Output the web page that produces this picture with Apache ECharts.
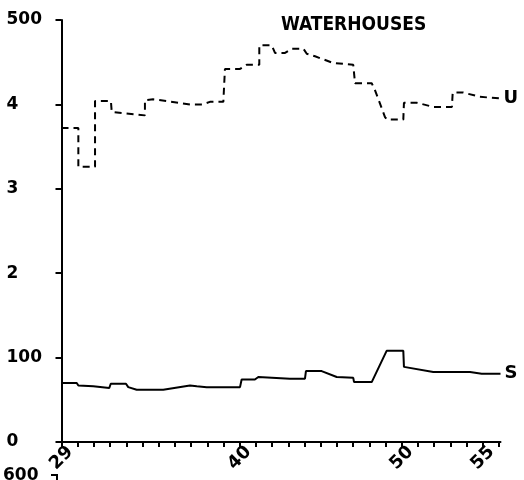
<!DOCTYPE html>
<html>
<head>
<meta charset="utf-8">
<script src="https://cdn.jsdelivr.net/npm/echarts@6/dist/echarts.min.js"></script>
<style>
  html, body { margin: 0; padding: 0; background: #fff; }
  #chart { width: 524px; height: 480px; }
</style>
</head>
<body>
<div id="chart"></div>
<script>
// U series (dashed, upper)
const yearsU = [29, 30.04, 30.04, 31.07, 31.07, 32.05, 32.1, 34.15, 34.15, 34.65, 35.49, 36.93, 37.73, 38.16, 38.99, 39.09, 40.02, 40.43, 41.21, 41.21, 41.98, 42.18, 42.8, 43.21, 43.93, 44.14, 44.65, 45.78, 47.01, 47.12, 48.15, 48.35, 48.97, 49.1, 50.1, 50.14, 50.93, 51.95, 53.1, 53.15, 53.8, 54.83, 56.1];
const valuesU = [372, 372, 326, 326, 404, 404, 391, 387, 405, 406, 404, 400, 400, 403, 403, 442, 442, 447, 447, 470, 470, 461, 461, 466, 466, 460, 457, 449, 447, 425, 425, 417, 385, 382, 382, 402, 402, 397, 397, 414, 414, 409, 407];
// S series (solid, lower)
const yearsS = [29, 29.94, 30.04, 30.96, 31.07, 31.95, 32.04, 32.98, 33.12, 33.64, 35.28, 36.93, 37.35, 37.96, 40.02, 40.12, 40.94, 41.15, 43.1, 44.03, 44.09, 45.06, 45.99, 47.01, 47.06, 48.15, 49.07, 50.1, 50.14, 51.95, 54.22, 54.94, 56.1];
const valuesS = [70, 70, 67, 66, 64, 64, 69, 69, 65, 62, 62, 67, 66, 65, 65, 74, 74, 77, 75, 75, 84, 84, 77, 76, 71, 71, 108, 108, 89, 83, 83, 81, 81];

const yTickLabels = ['0', '100', '2', '3', '4', '500'];
const xTickLabels = [29, 40, 50, 55];

const font = 'DejaVu Sans';
const chart = echarts.init(document.getElementById('chart'));

chart.setOption({
  backgroundColor: '#fff',
  animation: false,
  title: {
    text: 'WATERHOUSES',
    left: 276,
    top: 11,
    textStyle: { fontFamily: 'DejaVu Sans Condensed', fontWeight: 'bold', fontSize: 19, color: '#000' }
  },
  grid: { left: 61.5, right: 23.5, top: 20, bottom: 38 },
  xAxis: {
    type: 'value',
    min: 29,
    max: 56.1,
    interval: 1,
    splitLine: { show: false },
    axisLine: { show: true, lineStyle: { color: '#000', width: 2 } },
    axisTick: { show: true, length: 5, lineStyle: { color: '#000', width: 2 } },
    axisLabel: {
      rotate: 45,
      align: 'center',
      verticalAlign: 'middle',
      margin: 16,
      showMaxLabel: false,
      color: '#000',
      fontFamily: font,
      fontWeight: 'bold',
      fontSize: 18,
      formatter: v => xTickLabels.indexOf(v) >= 0 ? String(v) : ''
    }
  },
  yAxis: {
    type: 'value',
    min: 0,
    max: 500,
    interval: 100,
    splitLine: { show: false },
    axisLine: { show: true, lineStyle: { color: '#000', width: 2 } },
    axisTick: { show: true, length: 6, lineStyle: { color: '#000', width: 2 } },
    axisLabel: {
      align: 'left',
      margin: 55,
      color: '#000',
      fontFamily: font,
      fontWeight: 'bold',
      fontSize: 17,
      formatter: v => yTickLabels[Math.round(v / 100)]
    }
  },
  series: [
    {
      name: 'U',
      type: 'line',
      data: yearsU.map((x, i) => [x, valuesU[i]]),
      showSymbol: false,
      lineStyle: { color: '#000', width: 2, type: [7, 5] },
      endLabel: {
        show: true, formatter: '{a}', distance: 3,
        color: '#000', fontFamily: font, fontWeight: 'bold', fontSize: 18
      }
    },
    {
      name: 'S',
      type: 'line',
      data: yearsS.map((x, i) => [x, valuesS[i]]),
      showSymbol: false,
      lineStyle: { color: '#000', width: 2 },
      endLabel: {
        show: true, formatter: '{a}', distance: 4,
        color: '#000', fontFamily: font, fontWeight: 'bold', fontSize: 18
      }
    }
  ],
  graphic: [
    // top label of the next panel, cut off at the bottom edge
    { type: 'text', left: 3, top: 467, style: { text: '600', font: 'bold 17px "DejaVu Sans"', fill: '#000' } },
    { type: 'polyline', shape: { points: [[51, 475], [57, 475], [57, 480]] }, style: { stroke: '#000', lineWidth: 2, fill: null } }
  ]
});
</script>
</body>
</html>
